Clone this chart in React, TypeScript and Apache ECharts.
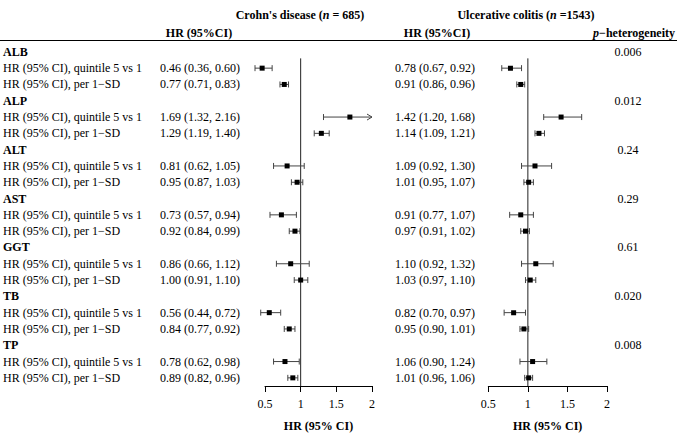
import React, { useEffect, useRef } from "react";
import * as echarts from "echarts";

const groups = ["ALB", "ALP", "ALT", "AST", "GGT", "TB", "TP"];
const rowKinds = ["HR (95% CI), quintile 5 vs 1", "HR (95% CI), per 1\u2212SD"];

const cdQ5Est = [0.46, 1.69, 0.81, 0.73, 0.86, 0.56, 0.78];
const cdQ5Lo = [0.36, 1.32, 0.62, 0.57, 0.66, 0.44, 0.62];
const cdQ5Hi = [0.6, 2.16, 1.05, 0.94, 1.12, 0.72, 0.98];
const cdSdEst = [0.77, 1.29, 0.95, 0.92, 1.0, 0.84, 0.89];
const cdSdLo = [0.71, 1.19, 0.87, 0.84, 0.91, 0.77, 0.82];
const cdSdHi = [0.83, 1.4, 1.03, 0.99, 1.1, 0.92, 0.96];

const ucQ5Est = [0.78, 1.42, 1.09, 0.91, 1.1, 0.82, 1.06];
const ucQ5Lo = [0.67, 1.2, 0.92, 0.77, 0.92, 0.7, 0.9];
const ucQ5Hi = [0.92, 1.68, 1.3, 1.07, 1.32, 0.97, 1.24];
const ucSdEst = [0.91, 1.14, 1.01, 0.97, 1.03, 0.95, 1.01];
const ucSdLo = [0.86, 1.09, 0.95, 0.91, 0.97, 0.9, 0.96];
const ucSdHi = [0.96, 1.21, 1.07, 1.02, 1.1, 1.01, 1.06];

const pHet = ["0.006", "0.012", "0.24", "0.29", "0.61", "0.020", "0.008"];

const X_MIN = 0.5;
const X_MAX = 2;
const X_STEP = 0.5;

const FONT = "'Liberation Serif', 'Times New Roman', Times, serif";

type Row = { label: string; group: boolean; g: number; kind: number };

const rows: Row[] = [];
groups.forEach((g, gi) => {
  rows.push({ label: g, group: true, g: gi, kind: -1 });
  rowKinds.forEach((k, ki) => rows.push({ label: k, group: false, g: gi, kind: ki }));
});
const rowIds = rows.map((_, i) => String(i));

const fmt = (e: number, l: number, h: number) =>
  `${e.toFixed(2)} (${l.toFixed(2)}, ${h.toFixed(2)})`;

function buildSet(q5: number[][], sd: number[][]) {
  const texts: string[] = [];
  const data: number[][] = [];
  rows.forEach((r, i) => {
    if (r.group) {
      texts.push("");
      return;
    }
    const src = r.kind === 0 ? q5 : sd;
    const e = src[0][r.g], l = src[1][r.g], h = src[2][r.g];
    texts.push(fmt(e, l, h));
    data.push([e, i, l, h]);
  });
  return { texts, data };
}

const cd = buildSet([cdQ5Est, cdQ5Lo, cdQ5Hi], [cdSdEst, cdSdLo, cdSdHi]);
const uc = buildSet([ucQ5Est, ucQ5Lo, ucQ5Hi], [ucSdEst, ucSdLo, ucSdHi]);
const pTexts = rows.map((r) => (r.group ? pHet[r.g] : ""));

const ciRender = (params: any, api: any) => {
  const est = api.value(0);
  const row = api.value(1);
  const lo = api.value(2);
  const hi = api.value(3);
  const [xe, y] = api.coord([est, row]);
  const xl = api.coord([lo, row])[0];
  const truncated = hi > X_MAX;
  const xh = api.coord([truncated ? X_MAX : hi, row])[0];
  const stroke = "#444";
  const children: any[] = [
    { type: "line", shape: { x1: xl, y1: y, x2: xh, y2: y }, style: { stroke, lineWidth: 1 } },
    { type: "line", shape: { x1: xl, y1: y - 3, x2: xl, y2: y + 3 }, style: { stroke, lineWidth: 1 } },
  ];
  if (truncated) {
    children.push({
      type: "polyline",
      shape: { points: [[xh - 5, y - 3], [xh, y], [xh - 5, y + 3]] },
      style: { stroke, lineWidth: 1, fill: "none" },
    });
  } else {
    children.push({ type: "line", shape: { x1: xh, y1: y - 3, x2: xh, y2: y + 3 }, style: { stroke, lineWidth: 1 } });
  }
  children.push({ type: "rect", shape: { x: xe - 2.5, y: y - 2.5, width: 5, height: 5 }, style: { fill: "#000" } });
  return { type: "group", children };
};

const refRender = (params: any, api: any) => {
  const [x, y0] = api.coord([1, 0]);
  const band = api.size([0, 1])[1];
  const cs = params.coordSys;
  return {
    type: "line",
    shape: { x1: x, y1: y0 + band * 0.4, x2: x, y2: cs.y + cs.height },
    style: { stroke: "#222", lineWidth: 1 },
  };
};

const xAxisBase = (gridIndex: number) => ({
  gridIndex,
  type: "value",
  min: X_MIN,
  max: X_MAX,
  interval: X_STEP,
  splitLine: { show: false },
  axisLine: { show: true, lineStyle: { color: "#000", width: 1 } },
  axisTick: { show: true, length: 6, lineStyle: { color: "#000" } },
  axisLabel: { color: "#000", fontSize: 12, fontFamily: FONT, margin: 12 },
  name: "HR (95% CI)",
  nameLocation: "middle",
  nameGap: 34,
  nameTextStyle: { color: "#000", fontSize: 12, fontWeight: "bold", fontFamily: FONT },
});

const yAxisBase = (gridIndex: number, texts: string[], margin: number, position: string, align: string, rich?: any) => ({
  gridIndex,
  type: "category",
  inverse: true,
  position,
  offset: 0,
  data: rowIds,
  axisLine: { show: false },
  axisTick: { show: false },
  splitLine: { show: false },
  axisLabel: {
    interval: 0,
    margin,
    align,
    color: "#000",
    fontSize: 12,
    fontFamily: FONT,
    formatter: (_v: string, i: number) => texts[i],
    rich,
  },
});

export default function App() {
  const ref = useRef<HTMLDivElement>(null);
  useEffect(() => {
    if (!ref.current) return;
    const chart = echarts.init(ref.current, null, { renderer: "svg" });
    const labelTexts = rows.map((r) => (r.group ? `{g|${r.label}}` : r.label));
    const boldRich = {
      b: { fontSize: 12, fontWeight: "bold", fontFamily: FONT, fill: "#000" },
      i: { fontSize: 12, fontWeight: "bold", fontStyle: "italic", fontFamily: FONT, fill: "#000" },
    };
    const option: any = {
      animation: false,
      backgroundColor: "#fff",
      textStyle: { fontFamily: FONT },
      grid: [
        { left: 262, width: 110, top: 43.7, height: 349.8 },
        { left: 488.3, width: 118.7, top: 43.7, height: 349.8 },
      ],
      xAxis: [xAxisBase(0), xAxisBase(1)],
      yAxis: [
        yAxisBase(0, labelTexts, 262, "left", "left", {
          g: { fontWeight: "bold", fontSize: 12, fontFamily: FONT, color: "#000" },
        }),
        yAxisBase(0, cd.texts, 105, "left", "left"),
        yAxisBase(1, uc.texts, 93.3, "left", "left"),
        yAxisBase(1, pTexts, 21, "right", "center"),
      ],
      graphic: [
        {
          type: "line",
          shape: { x1: 0, y1: 40.5, x2: 677, y2: 40.5 },
          style: { stroke: "#000", lineWidth: 1 },
        },
        {
          type: "text",
          x: 300,
          y: 15,
          style: {
            text: "{b|Crohn's disease (}{i|n}{b| = 685)}",
            align: "center",
            verticalAlign: "middle",
            fontFamily: FONT,
            rich: boldRich,
          },
        },
        {
          type: "text",
          x: 526,
          y: 15,
          style: {
            text: "{b|Ulcerative colitis (}{i|n}{b| =1543)}",
            align: "center",
            verticalAlign: "middle",
            fontFamily: FONT,
            rich: boldRich,
          },
        },
        {
          type: "text",
          x: 199,
          y: 33,
          style: {
            text: "HR (95%CI)",
            align: "center",
            verticalAlign: "middle",
            fontSize: 12,
            fontWeight: "bold",
            fontFamily: FONT,
            fill: "#000",
          },
        },
        {
          type: "text",
          x: 437,
          y: 33,
          style: {
            text: "HR (95%CI)",
            align: "center",
            verticalAlign: "middle",
            fontSize: 12,
            fontWeight: "bold",
            fontFamily: FONT,
            fill: "#000",
          },
        },
        {
          type: "text",
          x: 675,
          y: 33,
          style: {
            text: "{i|p}{b|\u2212heterogeneity}",
            align: "right",
            verticalAlign: "middle",
            fontFamily: FONT,
            rich: boldRich,
          },
        },
      ],
      series: [
        { type: "custom", xAxisIndex: 0, yAxisIndex: 0, clip: false, renderItem: refRender, data: [[1, 0]], encode: { x: 0, y: 1 } },
        { type: "custom", xAxisIndex: 1, yAxisIndex: 2, clip: false, renderItem: refRender, data: [[1, 0]], encode: { x: 0, y: 1 } },
        { type: "custom", xAxisIndex: 0, yAxisIndex: 0, clip: false, renderItem: ciRender, data: cd.data, encode: { x: 0, y: 1 } },
        { type: "custom", xAxisIndex: 1, yAxisIndex: 2, clip: false, renderItem: ciRender, data: uc.data, encode: { x: 0, y: 1 } },
      ],
    };
    chart.setOption(option);
    return () => chart.dispose();
  }, []);
  return (
    <div
      ref={ref}
      style={{ position: "absolute", left: 0, top: 0, width: 677, height: 437, background: "#fff" }}
    />
  );
}
